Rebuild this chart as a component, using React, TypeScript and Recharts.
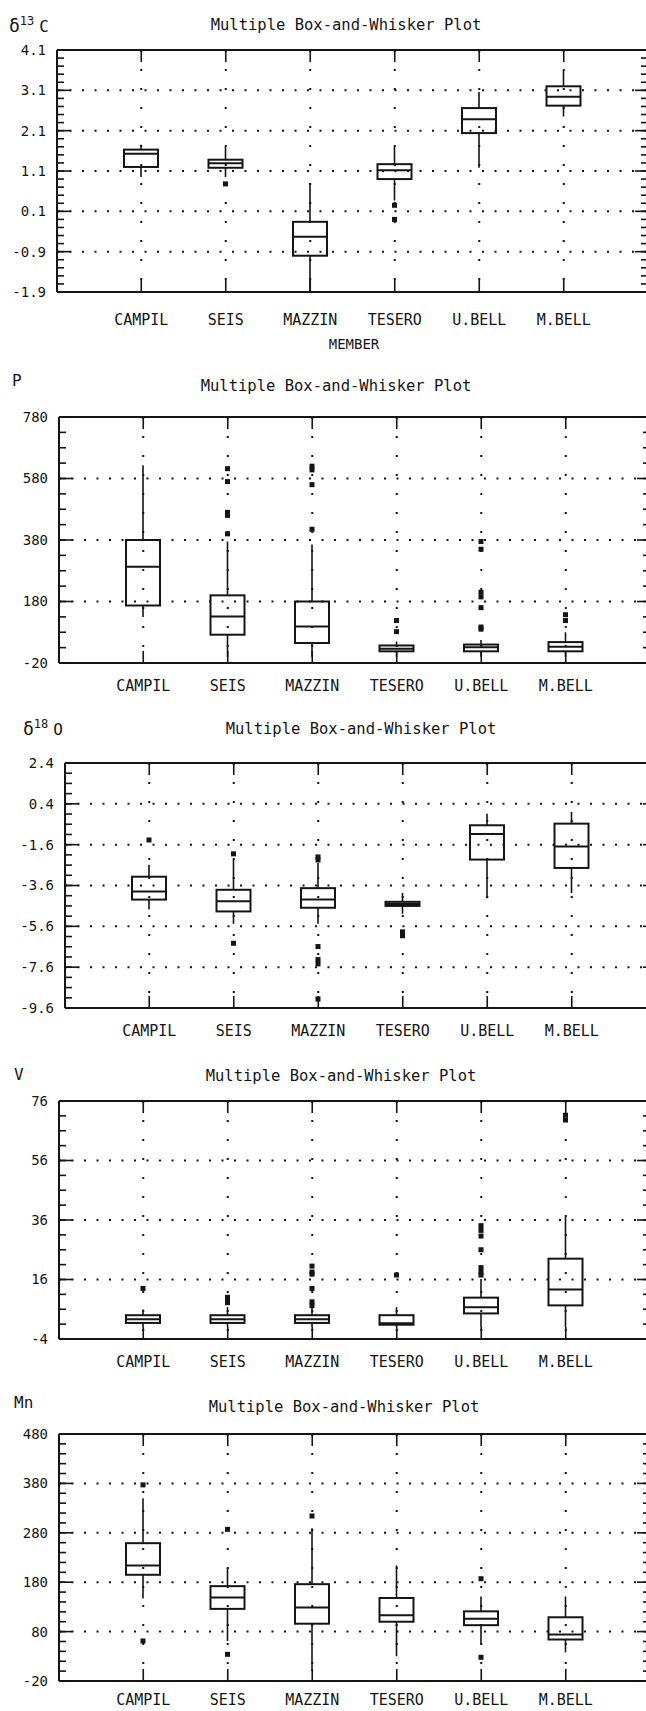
import type { ReactNode } from "react";
import { ComposedChart, Bar, XAxis, YAxis, CartesianGrid } from "recharts";

const members = ["CAMPIL", "SEIS", "MAZZIN", "TESERO", "U.BELL", "M.BELL"];

// δ13C
const c13Ticks = [-1.9, -0.9, 0.1, 1.1, 2.1, 3.1, 4.1];
const c13Min = [0.95, 0.95, -1.9, 0.37, 1.18, 2.45];
const c13Q1 = [1.2, 1.18, -1.0, 0.9, 2.04, 2.72];
const c13Median = [1.53, 1.29, -0.53, 1.12, 2.38, 2.94];
const c13Q3 = [1.63, 1.38, -0.16, 1.27, 2.66, 3.2];
const c13Max = [1.75, 1.7, 0.8, 1.7, 3.06, 3.6];
const c13Outliers = [[], [0.78], [], [0.25, -0.1], [], []];

// P
const pTicks = [-20, 180, 380, 580, 780];
const pMin = [130, 0, 0, 0, 0, 0];
const pQ1 = [167, 72, 45, 18, 18, 18];
const pMedian = [293, 131, 99, 26, 31, 33];
const pQ3 = [380, 200, 180, 37, 40, 48];
const pMax = [623, 375, 365, 50, 55, 80];
const pOutliers = [
  [],
  [400, 460, 470, 570, 612],
  [415, 560, 608, 620],
  [82, 118],
  [90, 97, 160, 195, 210, 350, 375],
  [118, 137],
];

// δ18O
const o18Ticks = [-9.6, -7.6, -5.6, -3.6, -1.6, 0.4, 2.4];
const o18Min = [-4.77, -5.47, -5.47, -4.98, -4.23, -3.97];
const o18Q1 = [-4.29, -4.87, -4.69, -4.6, -2.33, -2.74];
const o18Median = [-3.89, -4.37, -4.29, -4.5, -1.08, -1.69];
const o18Q3 = [-3.17, -3.81, -3.73, -4.4, -0.65, -0.57];
const o18Max = [-2.58, -2.33, -2.5, -3.97, -0.09, 0.0];
const o18Outliers = [
  [-1.37],
  [-2.05, -6.43],
  [-2.2, -2.35, -6.59, -7.23, -7.44, -9.16],
  [-5.87, -6.06],
  [],
  [],
];

// V
const vTicks = [-4, 16, 36, 56, 76];
const vMin = [0, 0, 0, 0, 0, 0];
const vQ1 = [1.4, 1.4, 1.4, 0.8, 4.6, 7.3];
const vMedian = [2.6, 2.6, 2.6, 1.3, 6.7, 12.6];
const vQ3 = [4.0, 4.0, 4.0, 4.0, 9.9, 23.0];
const vMax = [5.9, 6.7, 6.5, 6.7, 16.2, 37.0];
const vOutliers = [
  [13],
  [8.2, 9.0, 10.0],
  [7.2, 8.5, 13.0, 17.8, 18.5, 20.5],
  [17.5],
  [17.5, 18.5, 20.0, 26.0, 30.6, 32.5, 34.1],
  [69.6, 71.2],
];

// Mn
const mnTicks = [-20, 80, 180, 280, 380, 480];
const mnMin = [147, 61, 0, 30, 54, 38];
const mnQ1 = [195, 126, 96, 100, 93, 64];
const mnMedian = [214, 149, 129, 113, 106, 74];
const mnQ3 = [259, 172, 176, 148, 121, 109];
const mnMax = [350, 209, 289, 214, 151, 151];
const mnOutliers = [[377, 61], [287, 34], [314], [], [187, 28], []];

const INK = "#151515";
const FONT = "'DejaVu Sans Mono', 'Liberation Mono', monospace";
const PLOT_W = 591;
const TOP_PAD = 12;
const LABEL_SPACE = 44;

type PanelDef = {
  title: string;
  label: ReactNode;
  ticks: number[];
  minorStep: number;
  decimals: number;
  min: number[];
  q1: number[];
  median: number[];
  q3: number[];
  max: number[];
  outliers: number[][];
  left: number;
  top: number;
  bottom: number;
  labelGap: number;
  titleX: number;
  titleY: number;
  labelX: number;
  labelY: number;
};

function minorTicks(ticks: number[], step: number) {
  const lo = ticks[0];
  const hi = ticks[ticks.length - 1];
  const n = Math.round((hi - lo) / step);
  return Array.from({ length: n + 1 }, (_, i) => +(lo + i * step).toFixed(4));
}

// tick marks only, no label text
const noLabel = () => <g />;

// one box: whiskers, box, median and outlier squares, placed on the bar's min..max span
function BoxShape(props: any) {
  const { x, y, width, height, payload } = props;
  if (x == null || y == null || !payload) return null;
  const top = Math.min(y, y + height);
  const span = Math.abs(height);
  const { min, q1, median, q3, max, outliers } = payload;
  const toY = (v: number) => top + ((max - v) / (max - min)) * span;
  const cx = x + width / 2;
  return (
    <g>
      <line x1={cx} x2={cx} y1={toY(max)} y2={toY(q3)} stroke={INK} strokeWidth={1.6} />
      <line x1={cx} x2={cx} y1={toY(q1)} y2={toY(min)} stroke={INK} strokeWidth={1.6} />
      <rect
        x={x}
        y={toY(q3)}
        width={width}
        height={Math.max(toY(q1) - toY(q3), 1)}
        fill="none"
        stroke={INK}
        strokeWidth={2}
      />
      <line x1={x} x2={x + width} y1={toY(median)} y2={toY(median)} stroke={INK} strokeWidth={2} />
      {outliers.map((v: number, i: number) => (
        <rect key={i} x={cx - 2.5} y={toY(v) - 2.5} width={5} height={5} fill={INK} />
      ))}
    </g>
  );
}

function BoxPanel({ def, children }: { def: PanelDef; children?: ReactNode }) {
  const rows = members.map((member, i) => ({
    member,
    min: def.min[i],
    q1: def.q1[i],
    median: def.median[i],
    q3: def.q3[i],
    max: def.max[i],
    outliers: def.outliers[i],
  }));
  const domain: [number, number] = [def.ticks[0], def.ticks[def.ticks.length - 1]];
  const minor = minorTicks(def.ticks, def.minorStep);
  const frameH = def.bottom - def.top;
  const width = def.left + PLOT_W + 2;
  const height = TOP_PAD + frameH + LABEL_SPACE;
  const line = { stroke: INK, strokeWidth: 1.6 };
  const frame = { stroke: INK, strokeWidth: 2 };
  const pad = { left: 42, right: 42 };

  return (
    <>
      <div
        style={{
          position: "absolute",
          left: def.titleX,
          top: def.titleY,
          transform: "translate(-50%, -50%)",
          fontFamily: FONT,
          fontSize: 15.5,
          lineHeight: 1,
          whiteSpace: "nowrap",
          color: INK,
        }}
      >
        {def.title}
      </div>
      <div
        style={{
          position: "absolute",
          left: def.labelX,
          top: def.labelY,
          transform: "translateY(-50%)",
          fontFamily: FONT,
          fontSize: 16,
          lineHeight: 1.2,
          whiteSpace: "nowrap",
          color: INK,
        }}
      >
        {def.label}
      </div>
      {children}
      <div style={{ position: "absolute", left: 0, top: def.top - TOP_PAD }}>
        <ComposedChart
          width={width}
          height={height}
          data={rows}
          margin={{ top: TOP_PAD, right: 2, bottom: 0, left: 0 }}
        >
          <CartesianGrid
            vertical={false}
            stroke={INK}
            strokeWidth={2}
            strokeDasharray="2 10.5"
          />
          <CartesianGrid
            horizontal={false}
            stroke={INK}
            strokeWidth={2}
            strokeDasharray="2 17"
          />
          <XAxis
            dataKey="member"
            padding={pad}
            height={LABEL_SPACE}
            interval={0}
            tickLine={false}
            tickSize={0}
            tickMargin={def.labelGap}
            axisLine={frame}
            stroke={INK}
            tick={{ fill: INK, fontSize: 15, fontFamily: FONT }}
          />
          <XAxis
            xAxisId="bottomTicks"
            dataKey="member"
            padding={pad}
            mirror
            height={1}
            interval={0}
            tick={noLabel}
            tickSize={12}
            axisLine={frame}
            stroke={INK}
            tickLine={line}
          />
          <XAxis
            xAxisId="topTicks"
            orientation="top"
            dataKey="member"
            padding={pad}
            mirror
            height={1}
            interval={0}
            tick={noLabel}
            tickSize={12}
            axisLine={frame}
            stroke={INK}
            tickLine={line}
          />
          <YAxis
            domain={domain}
            ticks={def.ticks}
            allowDataOverflow
            interval={0}
            width={def.left}
            tickLine={false}
            tickSize={0}
            tickMargin={11}
            axisLine={frame}
            stroke={INK}
            tickFormatter={(v: number) => v.toFixed(def.decimals)}
            tick={{ fill: INK, fontSize: 14, fontFamily: FONT }}
          />
          <YAxis
            yAxisId="leftMajor"
            mirror
            width={1}
            domain={domain}
            ticks={def.ticks}
            allowDataOverflow
            interval={0}
            tick={noLabel}
            tickSize={13}
            axisLine={frame}
            stroke={INK}
            tickLine={line}
          />
          <YAxis
            yAxisId="leftMinor"
            mirror
            width={1}
            domain={domain}
            ticks={minor}
            allowDataOverflow
            interval={0}
            tick={noLabel}
            tickSize={6}
            axisLine={false}
            stroke={INK}
            tickLine={line}
          />
          <YAxis
            yAxisId="rightMajor"
            orientation="right"
            mirror
            width={1}
            domain={domain}
            ticks={def.ticks}
            allowDataOverflow
            interval={0}
            tick={noLabel}
            tickSize={13}
            axisLine={frame}
            stroke={INK}
            tickLine={line}
          />
          <YAxis
            yAxisId="rightMinor"
            orientation="right"
            mirror
            width={1}
            domain={domain}
            ticks={minor}
            allowDataOverflow
            interval={0}
            tick={noLabel}
            tickSize={6}
            axisLine={false}
            stroke={INK}
            tickLine={line}
          />
          <Bar
            dataKey={(d: any) => [d.min, d.max]}
            barSize={34}
            shape={(p: any) => <BoxShape {...p} />}
            isAnimationActive={false}
          />
        </ComposedChart>
      </div>
    </>
  );
}

const TITLE = "Multiple Box-and-Whisker Plot";

const delta = (mass: string, element: string) => (
  <span>
    <span style={{ fontSize: 18 }}>δ</span>
    <span style={{ fontSize: 12, verticalAlign: "0.55em" }}>{mass}</span>
    <span style={{ marginLeft: 5 }}>{element}</span>
  </span>
);

const panels: PanelDef[] = [
  {
    title: TITLE,
    label: delta("13", "C"),
    ticks: c13Ticks,
    minorStep: 0.2,
    decimals: 1,
    min: c13Min,
    q1: c13Q1,
    median: c13Median,
    q3: c13Q3,
    max: c13Max,
    outliers: c13Outliers,
    left: 57,
    top: 50,
    bottom: 292,
    labelGap: 22,
    titleX: 346,
    titleY: 26,
    labelX: 9,
    labelY: 25,
  },
  {
    title: TITLE,
    label: "P",
    ticks: pTicks,
    minorStep: 50,
    decimals: 0,
    min: pMin,
    q1: pQ1,
    median: pMedian,
    q3: pQ3,
    max: pMax,
    outliers: pOutliers,
    left: 59,
    top: 417,
    bottom: 663,
    labelGap: 17,
    titleX: 336,
    titleY: 387,
    labelX: 12,
    labelY: 381,
  },
  {
    title: TITLE,
    label: delta("18", "O"),
    ticks: o18Ticks,
    minorStep: 0.5,
    decimals: 1,
    min: o18Min,
    q1: o18Q1,
    median: o18Median,
    q3: o18Q3,
    max: o18Max,
    outliers: o18Outliers,
    left: 65,
    top: 763,
    bottom: 1008,
    labelGap: 17,
    titleX: 361,
    titleY: 730,
    labelX: 23,
    labelY: 728,
  },
  {
    title: TITLE,
    label: "V",
    ticks: vTicks,
    minorStep: 5,
    decimals: 0,
    min: vMin,
    q1: vQ1,
    median: vMedian,
    q3: vQ3,
    max: vMax,
    outliers: vOutliers,
    left: 59,
    top: 1101,
    bottom: 1339,
    labelGap: 17,
    titleX: 341,
    titleY: 1077,
    labelX: 14,
    labelY: 1075,
  },
  {
    title: TITLE,
    label: "Mn",
    ticks: mnTicks,
    minorStep: 20,
    decimals: 0,
    min: mnMin,
    q1: mnQ1,
    median: mnMedian,
    q3: mnQ3,
    max: mnMax,
    outliers: mnOutliers,
    left: 59,
    top: 1434,
    bottom: 1681,
    labelGap: 13,
    titleX: 344,
    titleY: 1408,
    labelX: 14,
    labelY: 1403,
  },
];

export default function App() {
  return (
    <div
      style={{
        position: "absolute",
        left: 0,
        top: 0,
        width: 646,
        height: 1711,
        overflow: "hidden",
        background: "#fff",
      }}
    >
      {panels.map((def, i) => (
        <BoxPanel key={i} def={def}>
          {i === 0 && (
            <div
              style={{
                position: "absolute",
                left: 354,
                top: 344,
                transform: "translate(-50%, -50%)",
                fontFamily: FONT,
                fontSize: 14,
                lineHeight: 1,
                color: INK,
              }}
            >
              MEMBER
            </div>
          )}
        </BoxPanel>
      ))}
    </div>
  );
}
